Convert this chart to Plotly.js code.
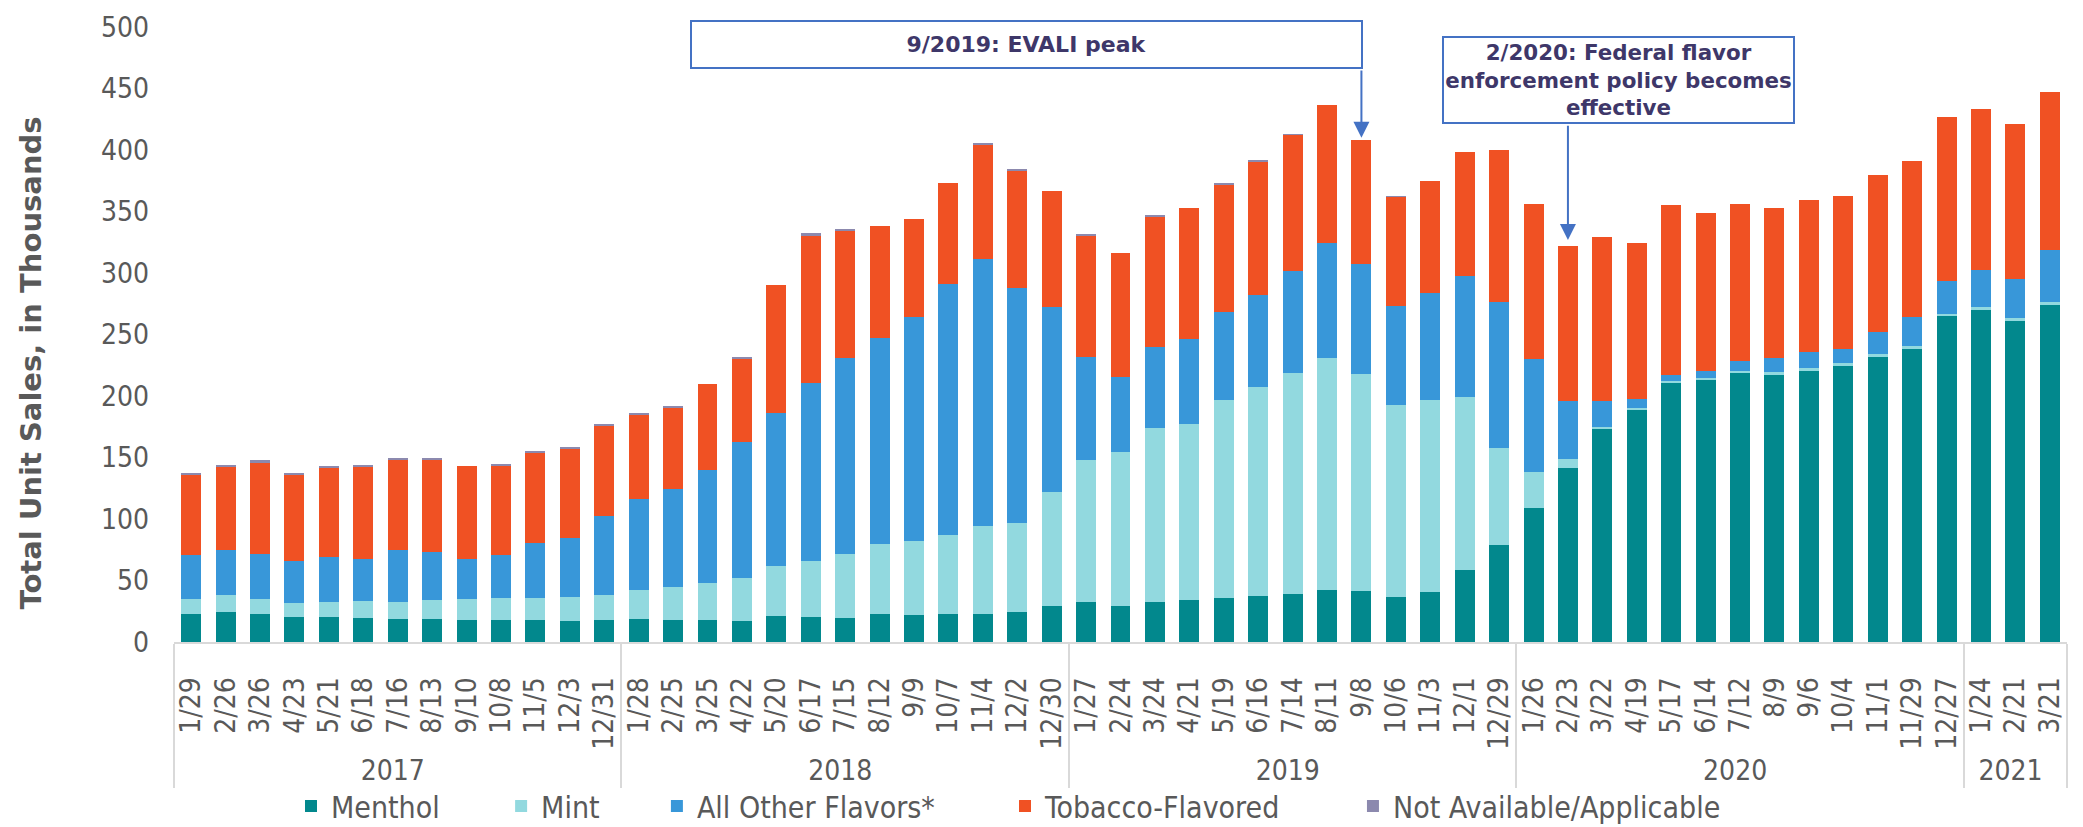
<!DOCTYPE html>
<html>
<head>
<meta charset="utf-8">
<script src="https://cdn.plot.ly/plotly-3.0.1.min.js"></script>
<style>html,body{margin:0;padding:0;background:#fff;}#chart{width:2083px;height:827px;}</style>
</head>
<body>
<div id="chart"></div>
<script>
// Categories: week-ending dates, grouped by year
const years = [
  "2017","2017","2017","2017","2017","2017","2017","2017","2017","2017","2017","2017","2017",
  "2018","2018","2018","2018","2018","2018","2018","2018","2018","2018","2018","2018","2018",
  "2019","2019","2019","2019","2019","2019","2019","2019","2019","2019","2019","2019","2019",
  "2020","2020","2020","2020","2020","2020","2020","2020","2020","2020","2020","2020","2020",
  "2021","2021","2021"
];
const dates = [
  "1/29","2/26","3/26","4/23","5/21","6/18","7/16","8/13","9/10","10/8","11/5","12/3","12/31",
  "1/28","2/25","3/25","4/22","5/20","6/17","7/15","8/12","9/9","10/7","11/4","12/2","12/30",
  "1/27","2/24","3/24","4/21","5/19","6/16","7/14","8/11","9/8","10/6","11/3","12/1","12/29",
  "1/26","2/23","3/22","4/19","5/17","6/14","7/12","8/9","9/6","10/4","11/1","11/29","12/27",
  "1/24","2/21","3/21"
];
// Unit sales, in thousands
const menthol = [
  22.8,24.8,23.1,20.7,20.0,19.7,19.0,19.0,17.9,17.9,17.6,17.2,17.9,
  18.3,17.9,17.6,17.2,21.0,20.3,19.7,22.8,21.7,22.4,23.1,24.5,29.0,
  32.8,29.0,32.8,33.8,35.9,37.2,39.3,42.4,41.7,36.9,40.3,58.3,78.6,
  109.3,141.7,172.8,189.0,210.7,213.4,218.3,217.2,220.7,224.1,232.1,238.6,264.8,
  270.0,260.7,273.8
];
const mint = [
  12.4,13.5,12.1,11.0,12.8,13.4,13.8,14.8,17.3,18.0,18.3,19.0,20.7,
  23.8,26.6,30.7,35.2,40.7,45.2,51.7,56.5,60.7,64.8,71.0,72.1,93.1,
  114.8,125.1,141.0,143.8,160.7,170.4,179.0,188.6,176.2,155.5,156.3,141.0,79.3,
  29.3,7.3,2.0,1.0,1.3,1.4,1.7,2.1,1.7,2.5,1.7,1.7,2.1,
  2.1,2.4,2.8
];
const otherFlavors = [
  35.5,36.2,36.5,33.8,36.2,34.1,42.0,39.0,32.4,34.8,44.8,48.6,63.5,
  73.8,79.6,91.7,110.0,124.5,145.2,159.3,167.6,181.7,203.5,216.9,191.3,150.3,
  84.5,61.4,66.2,69.0,71.3,74.8,83.4,93.1,89.3,80.7,87.5,98.3,118.3,
  91.4,47.2,21.1,7.2,5.2,5.2,8.6,11.7,13.5,11.7,17.9,24.2,26.2,
  30.7,31.7,42.0
];
const tobacco = [
  64.8,67.6,74.2,70.0,72.4,74.9,72.8,75.5,75.2,72.1,72.7,72.1,73.4,
  68.6,65.9,69.7,67.6,103.8,119.6,103.1,91.4,79.7,82.4,93.1,94.9,94.2,
  97.6,100.4,105.5,106.2,103.8,107.6,110.7,112.1,100.7,89.0,90.7,100.7,123.5,
  125.9,125.9,133.1,126.9,138.0,129.0,127.3,122.1,123.8,124.1,128.0,126.2,133.8,
  130.6,126.2,128.3
];
const notAvailable = [
  1.7,1.7,1.7,1.7,1.7,1.7,1.7,1.7,0.3,2.0,1.8,1.7,1.7,
  1.7,1.7,0.4,1.7,0.3,2.0,1.7,0.3,0.3,0.3,1.8,1.7,0.3,
  2.0,0.3,1.7,0.3,1.7,2.1,0.3,0.3,0.3,0.3,0.3,0.3,0.3,
  0,0,0,0,0,0,0,0,0,0,0,0,0,
  0,0,0
];
const seriesNames = ["Menthol","Mint","All Other Flavors*","Tobacco-Flavored","Not Available/Applicable"];
const seriesColors = ["#02888D","#92D9DF","#3897D9","#F05123","#8C89AE"];
const seriesValues = [menthol, mint, otherFlavors, tobacco, notAvailable];

// Annotation events
const evaliIndex = dates.indexOf("9/8", 26);       // 9/2019 bar
const fedIndex = dates.indexOf("2/23", 39);        // 2/2020 bar
const totalAt = i => menthol[i] + mint[i] + otherFlavors[i] + tobacco[i] + notAvailable[i];

const n = dates.length;
const legendIds = ["legend","legend2","legend3","legend4","legend5"];
const legendX = [0.0618, 0.1728, 0.2551, 0.4390, 0.6228];

const traces = seriesNames.map((name, i) => ({
  type: "bar",
  name: name,
  x: [years, dates],
  y: seriesValues[i],
  legend: legendIds[i],
  marker: {color: seriesColors[i], line: {width: 0}},
  hoverinfo: "name+y"
}));

const tickFont = {family: "DejaVu Sans Condensed, DejaVu Sans, sans-serif", size: 28, color: "#595959"};
const legendFont = {family: "DejaVu Sans Condensed, DejaVu Sans, sans-serif", size: 30, color: "#595959"};
const noteFont = {family: "DejaVu Sans, sans-serif", size: 22, color: "#3E3769", weight: "bold"};
const noteFont2 = {family: "DejaVu Sans, sans-serif", size: 21.4, color: "#3E3769", weight: "bold"};

const layout = {
  width: 2083,
  height: 827,
  margin: {l: 174, r: 16, t: 27, b: 185, autoexpand: false},
  paper_bgcolor: "#ffffff",
  plot_bgcolor: "#ffffff",
  barmode: "stack",
  bargap: 0.42,
  showlegend: true,
  xaxis: {
    type: "multicategory",
    tickmode: "linear",
    tick0: 0,
    dtick: 1,
    tickangle: -90,
    tickfont: tickFont,
    showline: true,
    linecolor: "#D9D9D9",
    linewidth: 2,
    showgrid: false,
    zeroline: false,
    ticks: "",
    showdividers: true,
    dividercolor: "#D9D9D9",
    dividerwidth: 2,
    ticklabelstandoff: 22,
    automargin: false
  },
  yaxis: {
    range: [0, 500],
    dtick: 50,
    tick0: 0,
    showgrid: false,
    zeroline: false,
    showline: false,
    ticks: "",
    tickfont: tickFont,
    ticklabelstandoff: 24,
    automargin: false
  },
  annotations: [
    {
      text: "Total Unit Sales, in Thousands",
      xref: "paper", yref: "paper",
      x: -0.0755, y: 0.453,
      xanchor: "center", yanchor: "middle",
      textangle: -90,
      showarrow: false,
      font: {family: "DejaVu Sans, sans-serif", size: 29, color: "#595959", weight: "bold"}
    },
    {
      text: "9/2019: EVALI peak",
      xref: "paper", yref: "paper",
      x: 0.4503, y: 0.9715,
      xanchor: "center", yanchor: "middle",
      showarrow: false,
      width: 669, height: 45,
      bordercolor: "#4472C4", borderwidth: 2, borderpad: 0,
      bgcolor: "#ffffff",
      font: noteFont
    },
    {
      text: "2/2020: Federal flavor<br>enforcement policy becomes<br>effective",
      xref: "paper", yref: "paper",
      x: 0.763, y: 0.9138,
      xanchor: "center", yanchor: "middle",
      showarrow: false,
      width: 349, height: 84,
      bordercolor: "#4472C4", borderwidth: 2, borderpad: 0,
      bgcolor: "#ffffff",
      font: noteFont2
    },
    {
      text: "",
      xref: "paper", yref: "y",
      x: (evaliIndex + 0.5) / n, y: totalAt(evaliIndex) + 1.8,
      axref: "pixel", ayref: "y",
      ax: 0, ay: 465.9,
      showarrow: true,
      arrowhead: 2, arrowsize: 1.6, arrowwidth: 2,
      arrowcolor: "#4472C4", standoff: 0
    },
    {
      text: "",
      xref: "paper", yref: "y",
      x: (fedIndex + 0.5) / n, y: totalAt(fedIndex) + 4.8,
      axref: "pixel", ayref: "y",
      ax: 0, ay: 421,
      showarrow: true,
      arrowhead: 2, arrowsize: 1.6, arrowwidth: 2,
      arrowcolor: "#4472C4", standoff: 0
    }
  ]
};

legendIds.forEach((id, i) => {
  layout[id] = {
    orientation: "h",
    x: legendX[i], xanchor: "left",
    y: -0.2667, yanchor: "middle",
    font: legendFont,
    bgcolor: "rgba(0,0,0,0)",
    borderwidth: 0,
    itemclick: false,
    itemdoubleclick: false
  };
});

Plotly.newPlot("chart", traces, layout, {displayModeBar: false, staticPlot: true});
</script>
</body>
</html>
